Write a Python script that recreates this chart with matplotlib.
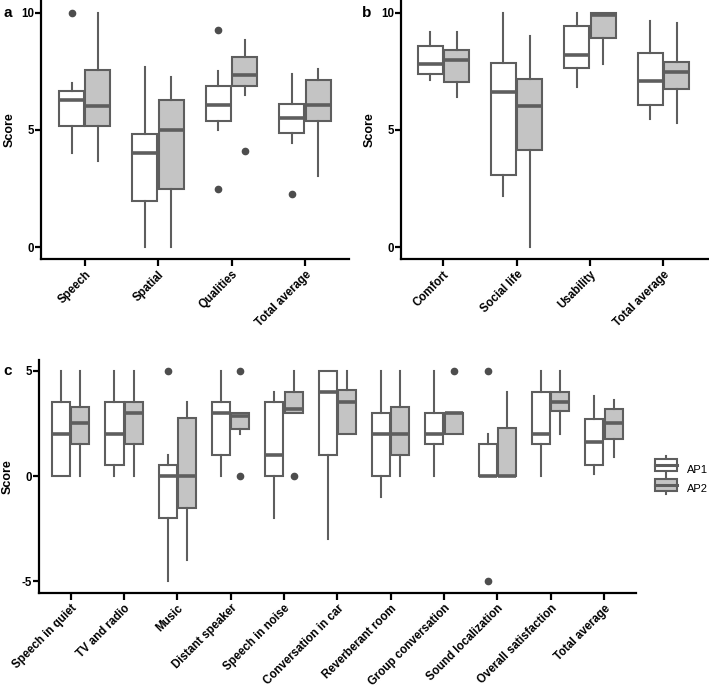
import matplotlib
matplotlib.use("Agg")
import matplotlib.pyplot as plt
from matplotlib.legend_handler import HandlerBase
from matplotlib.patches import Rectangle
from matplotlib.lines import Line2D

# ---- panel a: sound quality ----
cats_a = ["Speech", "Spatial", "Qualities", "Total average"]
a_ap1_lo = [4.0, 0.0, 5.0, 4.46]
a_ap1_q1 = [5.17, 1.97, 5.38, 4.89]
a_ap1_med = [6.29, 4.0, 6.05, 5.53]
a_ap1_q3 = [6.68, 4.83, 6.88, 6.11]
a_ap1_hi = [7.0, 7.67, 7.5, 7.37]
a_ap1_out = [[10.0], [], [9.25, 2.5], [2.27]]
a_ap2_lo = [3.66, 0.0, 6.5, 3.05]
a_ap2_q1 = [5.17, 2.5, 6.88, 5.38]
a_ap2_med = [6.0, 5.0, 7.36, 6.05]
a_ap2_q3 = [7.56, 6.29, 8.12, 7.13]
a_ap2_hi = [10.0, 7.26, 8.82, 7.61]
a_ap2_out = [[], [], [4.12], []]

# ---- panel b ----
cats_b = ["Comfort", "Social life", "Usability", "Total average"]
b_ap1_lo = [7.13, 2.2, 6.82, 5.48]
b_ap1_q1 = [7.39, 3.08, 7.66, 6.05]
b_ap1_med = [7.8, 6.6, 8.2, 7.09]
b_ap1_q3 = [8.6, 7.86, 9.42, 8.3]
b_ap1_hi = [9.19, 10.0, 10.0, 9.64]
b_ap1_out = [[], [], [], []]
b_ap2_lo = [6.4, 0.0, 7.83, 5.28]
b_ap2_q1 = [7.06, 4.16, 8.9, 6.73]
b_ap2_med = [8.0, 6.0, 9.9, 7.49]
b_ap2_q3 = [8.41, 7.19, 10.0, 7.9]
b_ap2_hi = [9.19, 9.0, 10.0, 9.57]
b_ap2_out = [[], [], [], []]

# ---- panel c ----
cats_c = ["Speech in quiet", "TV and radio", "Music", "Distant speaker",
          "Speech in noise", "Conversation in car", "Reverberant room",
          "Group conversation", "Sound localization", "Overall satisfaction",
          "Total average"]
c_ap1_lo = [0, 0, -5, 0, -2, -3, -1, 0, 0, 0, 0.1]
c_ap1_q1 = [0, 0.5, -2, 1, 0, 1, 0, 1.5, 0, 1.5, 0.52]
c_ap1_med = [2, 2, 0, 3, 1, 4, 2, 2, 0, 2, 1.63]
c_ap1_q3 = [3.5, 3.5, 0.5, 3.5, 3.5, 5, 3, 3, 1.5, 4, 2.7]
c_ap1_hi = [5, 5, 1, 5, 4, 5, 5, 5, 2, 5, 3.79]
c_ap1_out = [[], [], [5], [], [], [], [], [], [5, -5], [], []]
c_ap2_lo = [0, 0, -4, 2, 3, 2, 0, 2, 0, 2, 0.88]
c_ap2_q1 = [1.5, 1.5, -1.5, 2.25, 3, 2, 1, 2, 0, 3.1, 1.77]
c_ap2_med = [2.5, 3, 0, 2.83, 3.18, 3.5, 2, 3, 0, 3.5, 2.5]
c_ap2_q3 = [3.25, 3.5, 2.75, 3, 4, 4.1, 3.25, 3, 2.29, 4, 3.18]
c_ap2_hi = [5, 5, 3.5, 3, 5, 5, 5, 3, 4, 5, 3.59]
c_ap2_out = [[], [], [], [5, 0], [0], [], [], [5], [], [], []]

EDGE = "#5e5e5e"
FILL2 = "#c4c4c4"
DOT = "#4d4d4d"
FONT = "Liberation Sans"


def make_stats(lo, q1, med, q3, hi, out):
    return [dict(whislo=a, q1=b, med=c, q3=d, whishi=e, fliers=f)
            for a, b, c, d, e, f in zip(lo, q1, med, q3, hi, out)]


def draw_boxes(ax, stats, pos, fill):
    ax.bxp(stats, positions=pos, widths=0.34, patch_artist=True,
           showcaps=False,
           boxprops=dict(facecolor=fill, edgecolor=EDGE, linewidth=1.5),
           medianprops=dict(color=EDGE, linewidth=2.6, solid_capstyle="butt"),
           whiskerprops=dict(color=EDGE, linewidth=1.5),
           flierprops=dict(marker="o", markerfacecolor=DOT,
                           markeredgecolor=DOT, markersize=4.5))


def style_axis(ax, cats, ylim, yticks, xlim):
    ax.set_xlim(*xlim)
    ax.set_ylim(*ylim)
    ax.set_xticks(range(1, len(cats) + 1))
    ax.set_xticklabels(cats, rotation=45, ha="right", rotation_mode="anchor",
                       fontsize=8.3, fontweight="bold", family=FONT)
    ax.set_yticks(yticks)
    ax.set_yticklabels([str(t) for t in yticks], fontsize=8.3,
                       fontweight="bold", family=FONT)
    ax.set_ylabel("Score", fontsize=9, fontweight="bold", family=FONT)
    for s in ["top", "right"]:
        ax.spines[s].set_visible(False)
    for s in ["left", "bottom"]:
        ax.spines[s].set_linewidth(1.6)
    ax.tick_params(axis="y", length=4, width=1.6, pad=1)
    ax.tick_params(axis="x", length=5, width=1.6, pad=2)


def panel(ax, cats, ap1, ap2, ylim, yticks, xlim):
    n = len(cats)
    draw_boxes(ax, make_stats(*ap1), [i + 1 - 0.18 for i in range(n)], "white")
    draw_boxes(ax, make_stats(*ap2), [i + 1 + 0.18 for i in range(n)], FILL2)
    style_axis(ax, cats, ylim, yticks, xlim)


class BoxHandler(HandlerBase):
    def __init__(self, fill):
        super().__init__()
        self.fill = fill

    def create_artists(self, legend, orig, x0, y0, width, height, fontsize, trans):
        cx = x0 + width / 2
        arts = [
            Line2D([cx, cx], [y0 - 0.3 * height, y0 + 1.3 * height],
                   color=EDGE, lw=1.5, transform=trans),
            Rectangle((x0, y0), width, height, facecolor=self.fill,
                      edgecolor=EDGE, lw=1.5, transform=trans),
            Line2D([x0, x0 + width], [y0 + height / 2] * 2, color=EDGE,
                   lw=2.2, transform=trans),
        ]
        return arts


fig = plt.figure(figsize=(7.09, 6.89), dpi=100)
ax_a = fig.add_axes([0.0574, 0.6245, 0.4348, 0.3755])
ax_b = fig.add_axes([0.5652, 0.6245, 0.4348, 0.3755])
ax_c = fig.add_axes([0.0546, 0.1398, 0.8424, 0.3377])

panel(ax_a, cats_a,
      (a_ap1_lo, a_ap1_q1, a_ap1_med, a_ap1_q3, a_ap1_hi, a_ap1_out),
      (a_ap2_lo, a_ap2_q1, a_ap2_med, a_ap2_q3, a_ap2_hi, a_ap2_out),
      (-0.49, 10.54), [0, 5, 10], (0.4, 4.6))
panel(ax_b, cats_b,
      (b_ap1_lo, b_ap1_q1, b_ap1_med, b_ap1_q3, b_ap1_hi, b_ap1_out),
      (b_ap2_lo, b_ap2_q1, b_ap2_med, b_ap2_q3, b_ap2_hi, b_ap2_out),
      (-0.49, 10.54), [0, 5, 10], (0.42, 4.62))
panel(ax_c, cats_c,
      (c_ap1_lo, c_ap1_q1, c_ap1_med, c_ap1_q3, c_ap1_hi, c_ap1_out),
      (c_ap2_lo, c_ap2_q1, c_ap2_med, c_ap2_q3, c_ap2_hi, c_ap2_out),
      (-5.53, 5.5), [-5, 0, 5], (0.4, 11.6))

for ax in (ax_a, ax_b, ax_c):
    ax.yaxis.set_label_coords(-0.08 if ax is not ax_c else -0.042, 0.5)

fig.text(3 / 709, 1 - 13 / 689, "a", fontsize=11, fontweight="bold",
         family=FONT, va="center")
fig.text(362 / 709, 1 - 13 / 689, "b", fontsize=11, fontweight="bold",
         family=FONT, va="center")
fig.text(3 / 709, 1 - 371 / 689, "c", fontsize=11, fontweight="bold",
         family=FONT, va="center")

h1 = Rectangle((0, 0), 1, 1)
h2 = Rectangle((0, 0), 1, 1)
fig.legend([h1, h2], ["AP1", "AP2"], loc="center left",
           bbox_to_anchor=(0.91, 0.305), frameon=False,
           handler_map={h1: BoxHandler("white"), h2: BoxHandler(FILL2)},
           prop=dict(family=FONT, size=8), handlelength=2.0,
           handleheight=1.2, labelspacing=0.75, handletextpad=0.9)

fig.savefig("out.png", dpi=100)
